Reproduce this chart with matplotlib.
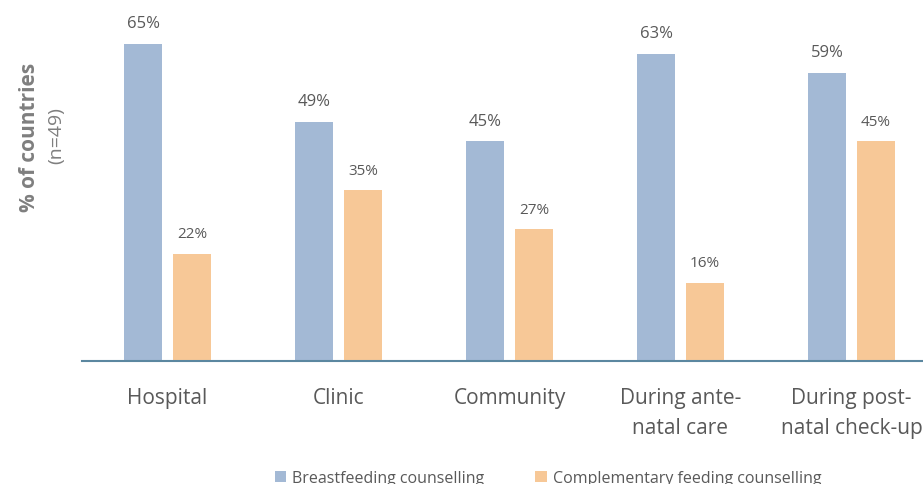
import matplotlib.pyplot as plt
import numpy as np

categories = ["Hospital", "Clinic", "Community", "During ante-\nnatal care", "During post-\nnatal check-up"]
breastfeeding = [65, 49, 45, 63, 59]
complementary = [22, 35, 27, 16, 45]
series_names = ["Breastfeeding counselling", "Complementary feeding counselling"]

blue = "#a3b9d5"
orange = "#f7c897"
grey = "#595959"

plt.rcParams['font.family'] = ['Open Sans', 'DejaVu Sans']

fig = plt.figure(figsize=(9.23, 4.85), dpi=100)
ax = fig.add_axes([82 / 923, 123 / 485, 855 / 923, 362 / 485])

x = np.arange(len(categories))
w = 0.222
off = 0.143
b1 = ax.bar(x - off, breastfeeding, w, color=blue, label=series_names[0])
b2 = ax.bar(x + off, complementary, w, color=orange, label=series_names[1])

for xi, v in zip(x - off, breastfeeding):
    ax.text(xi, v + 2.6, f"{v}%", ha="center", va="bottom", fontsize=12, color=grey)
for xi, v in zip(x + off, complementary):
    ax.text(xi, v + 2.6, f"{v}%", ha="center", va="bottom", fontsize=11, color=grey)

ax.set_xlim(-0.5, 4.5)
ax.set_ylim(0, 74.2)
ax.set_yticks([])
ax.set_xticks(x)
ax.set_xticklabels(categories, fontsize=15, color=grey, linespacing=1.55)
ax.tick_params(axis="x", length=0, pad=19)
for s in ["top", "right", "left"]:
    ax.spines[s].set_visible(False)
ax.spines["bottom"].set_color("#5b87a0")
ax.spines["bottom"].set_linewidth(1.5)

fig.text(30 / 923, 1 - 137 / 485, "% of countries", rotation=90, ha="center", va="center",
         fontsize=15, fontweight="bold", color="#7f7f7f")
fig.text(56 / 923, 1 - 136 / 485, "(n=49)", rotation=90, ha="center", va="center",
         fontsize=14, color="#7f7f7f")

fig.legend(handles=[b1, b2], labels=series_names, loc="center", bbox_to_anchor=(548 / 923, 1 - 479 / 485),
           ncol=2, frameon=False, fontsize=11.5, labelcolor=grey, handlelength=0.7, handleheight=0.7,
           handletextpad=0.4, columnspacing=3.2)

fig.savefig("out.png", dpi=100)
